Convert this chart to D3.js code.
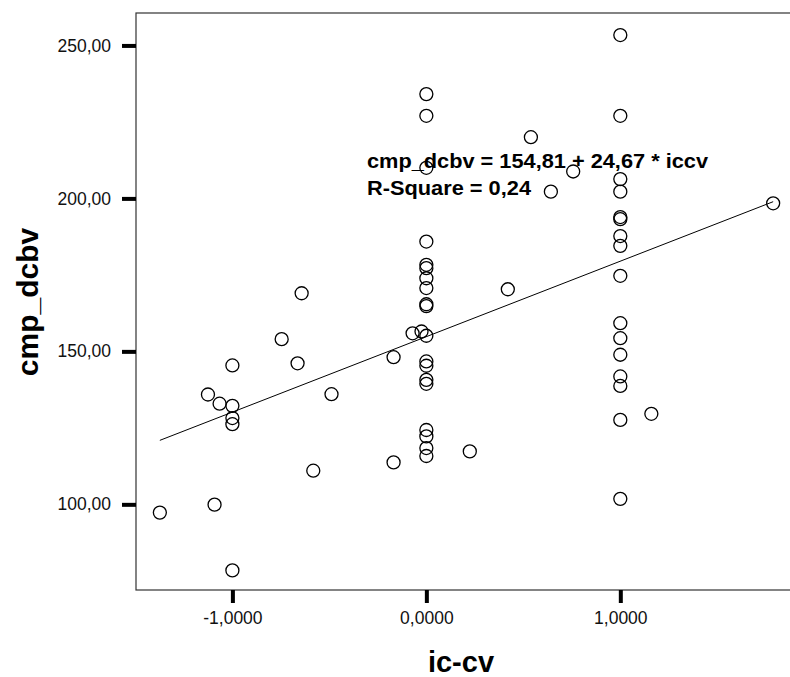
<!DOCTYPE html>
<html>
<head>
<meta charset="utf-8">
<script src="https://cdn.jsdelivr.net/npm/d3@7"></script>
<style>
  body { margin: 0; background: #fff; }
  text { font-family: "Liberation Sans", Arial, sans-serif; }
</style>
</head>
<body>
<script>
// ic-cv (x) and cmp_dcbv (y)
var iccv = [
  // x = 0 column
  0, 0, 0, 0, 0, 0, 0, 0, 0, 0, 0, 0, 0, 0, 0, 0, 0, 0, 0,
  // x = 1 column
  1, 1, 1, 1, 1, 1, 1, 1, 1, 1, 1, 1, 1, 1, 1, 1,
  // x = -1 column
  -1, -1, -1, -1, -1,
  // scattered
  -1.126, -1.066, -1.374, -1.092, 0.539, -0.643, 0.42, -0.746, -0.071, -0.025,
  -0.664, -0.169, -0.489, 0.224, -0.169, -0.583, 0.757, 0.642, 1.788, 1.16
];
var cmpDcbv = [
  234.1, 227.0, 210.0, 185.9, 178.3, 177.2, 173.9, 170.7, 165.4, 164.8,
  155.1, 146.7, 145.3, 140.7, 139.4, 124.3, 122.2, 118.4, 115.8,
  253.4, 227.0, 206.3, 202.2, 193.9, 193.2, 187.7, 184.5, 174.7, 159.2,
  154.3, 148.9, 141.8, 138.7, 127.6, 101.8,
  145.4, 132.2, 128.2, 126.2, 78.4,
  135.9, 132.9, 97.3, 99.9, 220.0, 169.0, 170.3, 154.0, 155.9, 156.5,
  146.1, 148.1, 136.0, 117.3, 113.7, 111.0, 208.8, 202.2, 198.4, 129.6
];
var intercept = 154.81, slope = 24.67;
var yTicks = [100, 150, 200, 250];
var xTicks = [-1, 0, 1];
var equationText = "cmp_dcbv = 154,81 + 24,67 * iccv";
var rsqText = "R-Square = 0,24";

var W = 790, H = 677;
var plotL = 136, plotT = 13, plotB = 590, plotR = 791;

var svg = d3.select("body").append("svg")
  .attr("width", W)
  .attr("height", H);

var x = d3.scaleLinear().domain([-1.497, 1.88]).range([plotL, plotR]);
var y = d3.scaleLinear().domain([72.0, 260.6]).range([plotB, plotT]);

var comma = function(n, digits) { return n.toFixed(digits).replace(".", ","); };

// plot frame (right side runs off the picture)
svg.append("rect")
  .attr("x", plotL).attr("y", plotT)
  .attr("width", plotR - plotL + 20).attr("height", plotB - plotT)
  .attr("fill", "none")
  .attr("stroke", "#333")
  .attr("stroke-width", 1.2);

// y axis
var yAxis = d3.axisLeft(y).tickValues(yTicks).tickSize(14).tickPadding(11)
  .tickFormat(function(d) { return comma(d, 2); });
var gy = svg.append("g")
  .attr("transform", "translate(" + plotL + ",0)")
  .call(yAxis);
gy.select(".domain").remove();
gy.selectAll(".tick line").attr("stroke", "#000").attr("stroke-width", 4);
gy.selectAll(".tick text")
  .attr("font-size", 17.5).attr("fill", "#111")
  .style("font-family", "'Liberation Sans', Arial, sans-serif");

// x axis
var xAxis = d3.axisBottom(x).tickValues(xTicks).tickSize(13).tickPadding(9)
  .tickFormat(function(d) { return comma(d, 4); });
var gx = svg.append("g")
  .attr("transform", "translate(0," + plotB + ")")
  .call(xAxis);
gx.select(".domain").remove();
gx.selectAll(".tick line").attr("stroke", "#000").attr("stroke-width", 4);
gx.selectAll(".tick text")
  .attr("font-size", 17.5).attr("fill", "#111")
  .style("font-family", "'Liberation Sans', Arial, sans-serif");

// axis titles
svg.append("text")
  .attr("transform", "translate(38,302) rotate(-90)")
  .attr("text-anchor", "middle")
  .attr("font-size", 30).attr("font-weight", "bold")
  .text("cmp_dcbv");

svg.append("text")
  .attr("x", 461).attr("y", 672)
  .attr("text-anchor", "middle")
  .attr("font-size", 29).attr("font-weight", "bold")
  .text("ic-cv");

// regression line over the data range
var xr = d3.extent(iccv);
svg.append("line")
  .attr("x1", x(xr[0])).attr("y1", y(intercept + slope * xr[0]))
  .attr("x2", x(xr[1])).attr("y2", y(intercept + slope * xr[1]))
  .attr("stroke", "#000").attr("stroke-width", 1);

// points
svg.selectAll(".pt")
  .data(iccv)
  .enter().append("circle")
  .attr("class", "pt")
  .attr("cx", function(d) { return x(d); })
  .attr("cy", function(d, i) { return y(cmpDcbv[i]); })
  .attr("r", 6.5)
  .attr("fill", "none")
  .attr("stroke", "#000")
  .attr("stroke-width", 1.3);

// equation annotation
svg.append("text")
  .attr("x", 367).attr("y", 168)
  .attr("font-size", 20).attr("font-weight", "bold")
  .attr("textLength", 341).attr("lengthAdjust", "spacingAndGlyphs")
  .text(equationText);
svg.append("text")
  .attr("x", 367).attr("y", 195)
  .attr("font-size", 20).attr("font-weight", "bold")
  .attr("textLength", 164).attr("lengthAdjust", "spacingAndGlyphs")
  .text(rsqText);
</script>
</body>
</html>
